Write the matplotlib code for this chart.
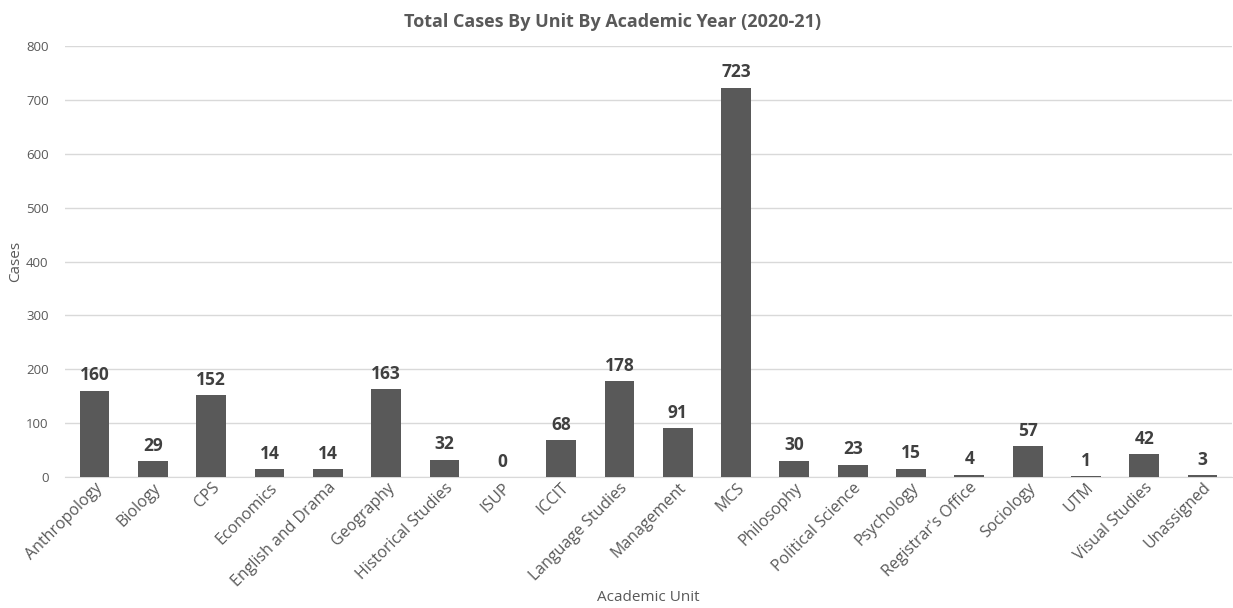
import matplotlib
matplotlib.use('Agg')
from matplotlib import pyplot as plt
import numpy as np

units = ['Anthropology', 'Biology', 'CPS', 'Economics', 'English and Drama',
         'Geography', 'Historical Studies', 'ISUP', 'ICCIT', 'Language Studies',
         'Management', 'MCS', 'Philosophy', 'Political Science', 'Psychology',
         "Registrar's Office", 'Sociology', 'UTM', 'Visual Studies', 'Unassigned']
cases = [160, 29, 152, 14, 14, 163, 32, 0, 68, 178, 91, 723, 30, 23, 15, 4, 57, 1, 42, 3]

plt.rcParams['font.family'] = ['Open Sans', 'DejaVu Sans']

fig = plt.figure(figsize=(12.33, 6.08), dpi=100)
ax = fig.add_axes([0.053, 0.2155, 0.946, 0.7085])

x = np.arange(len(units))
ax.bar(x, cases, width=0.51, color='#595959', zorder=3)
# 每个条柱上方写数值
for xi, v in zip(x, cases):
    ax.text(xi, v + 12, str(v), ha='center', va='bottom', fontsize=12.5,
            fontweight='bold', color='#404040')

ax.set_xlim(-0.5, len(units) - 0.5)
ax.set_ylim(0, 800)
ax.set_yticks(range(0, 801, 100))
ax.yaxis.grid(True, color='#d9d9d9', linewidth=1, zorder=0)
ax.tick_params(axis='y', length=0, labelsize=9.5, labelcolor='#595959', pad=12)
ax.tick_params(axis='x', length=0, labelsize=11.5, labelcolor='#595959', pad=2)
ax.set_xticks(x)
ax.set_xticklabels(units, rotation=45, ha='right', rotation_mode='anchor')
for s in ['top', 'right', 'left']:
    ax.spines[s].set_visible(False)
ax.spines['bottom'].set_color('#d9d9d9')

ax.set_title('Total Cases By Unit By Academic Year (2020-21)', fontsize=13,
             fontweight='bold', color='#595959', pad=14, x=0.469)
ax.set_ylabel('Cases', fontsize=11, color='#595959', labelpad=2)
ax.set_xlabel('Academic Unit', fontsize=11, color='#595959', labelpad=0)

fig.savefig('out.png', dpi=100)
